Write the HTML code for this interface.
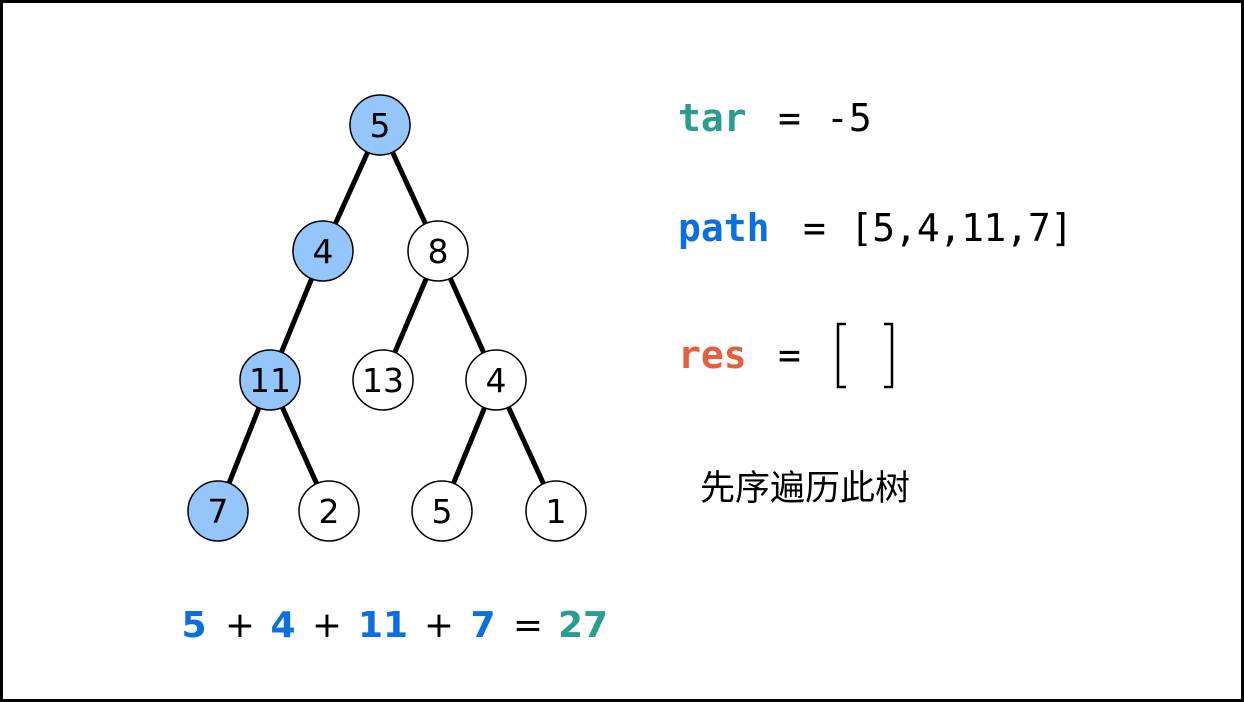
<!DOCTYPE html>
<html><head><meta charset="utf-8"><style>
html,body{margin:0;padding:0;background:#fff}
svg{display:block}
</style></head><body>
<svg width="1244" height="702" viewBox="0 0 1244 702" xmlns="http://www.w3.org/2000/svg">
<rect x="1.5" y="1.5" width="1241" height="699" fill="#fff" stroke="#000" stroke-width="3"/>
<g stroke="#000" stroke-width="5" stroke-linecap="round">
<line x1="380" y1="125" x2="323" y2="251"/>
<line x1="380" y1="125" x2="438" y2="251"/>
<line x1="323" y1="251" x2="270" y2="380"/>
<line x1="438" y1="251" x2="383" y2="380"/>
<line x1="438" y1="251" x2="496" y2="380"/>
<line x1="270" y1="380" x2="218" y2="511"/>
<line x1="270" y1="380" x2="329" y2="511"/>
<line x1="496" y1="380" x2="442" y2="511"/>
<line x1="496" y1="380" x2="556" y2="511"/>
</g>
<g stroke="#000" stroke-width="1.5">
<circle cx="380" cy="125" r="30" fill="#94c6fb"/>
<circle cx="323" cy="251" r="30" fill="#94c6fb"/>
<circle cx="438" cy="251" r="30" fill="#fff"/>
<circle cx="270" cy="380" r="30" fill="#94c6fb"/>
<circle cx="383" cy="380" r="30" fill="#fff"/>
<circle cx="496" cy="380" r="30" fill="#fff"/>
<circle cx="218" cy="511" r="30" fill="#94c6fb"/>
<circle cx="329" cy="511" r="30" fill="#fff"/>
<circle cx="442" cy="511" r="30" fill="#fff"/>
<circle cx="556" cy="511" r="30" fill="#fff"/>
</g>
<g font-family="'DejaVu Sans','Liberation Sans',sans-serif" font-size="33" text-anchor="middle" fill="#000">
<text x="380" y="137">5</text>
<text x="323" y="263">4</text>
<text x="438" y="263">8</text>
<text x="270" y="392">11</text>
<text x="383" y="392">13</text>
<text x="496" y="392">4</text>
<text x="218" y="523">7</text>
<text x="329" y="523">2</text>
<text x="442" y="523">5</text>
<text x="556" y="523">1</text>
</g>
<g font-family="'DejaVu Sans Mono','Liberation Mono',monospace" font-size="38">
<text x="678" y="131" fill="#2a9d8f" font-weight="bold">tar</text>
<text x="778" y="131" fill="#000">=</text>
<text x="826" y="131" fill="#000">-5</text>
<text x="678" y="241" fill="#0b6fe2" font-weight="bold">path</text>
<text x="803" y="241" fill="#000">=</text>
<text x="850" y="241" fill="#000" textLength="223">[5,4,11,7]</text>
<text x="678" y="368" fill="#e45f3e" font-weight="bold">res</text>
<text x="778" y="368" fill="#000">=</text>
</g>
<g stroke="#000" stroke-width="2.5" fill="none">
<polyline points="846,324 838,324 838,387 846,387"/>
<polyline points="884,324 892,324 892,387 884,387"/>
</g>
<text x="700" y="500" font-family="'Liberation Sans','Noto Sans CJK SC',sans-serif" font-size="35" fill="#000">先序遍历此树</text>
<g font-family="'DejaVu Sans','Liberation Sans',sans-serif" font-size="36" text-anchor="middle">
<text x="194" y="637" fill="#0b6fe2" font-weight="bold">5</text>
<text x="240" y="637" fill="#000">+</text>
<text x="283" y="637" fill="#0b6fe2" font-weight="bold">4</text>
<text x="327" y="637" fill="#000">+</text>
<text x="383" y="637" fill="#0b6fe2" font-weight="bold">11</text>
<text x="439" y="637" fill="#000">+</text>
<text x="483" y="637" fill="#0b6fe2" font-weight="bold">7</text>
<text x="528" y="637" fill="#000">=</text>
<text x="583" y="637" fill="#2a9d8f" font-weight="bold">27</text>
</g>
</svg>
</body></html>
